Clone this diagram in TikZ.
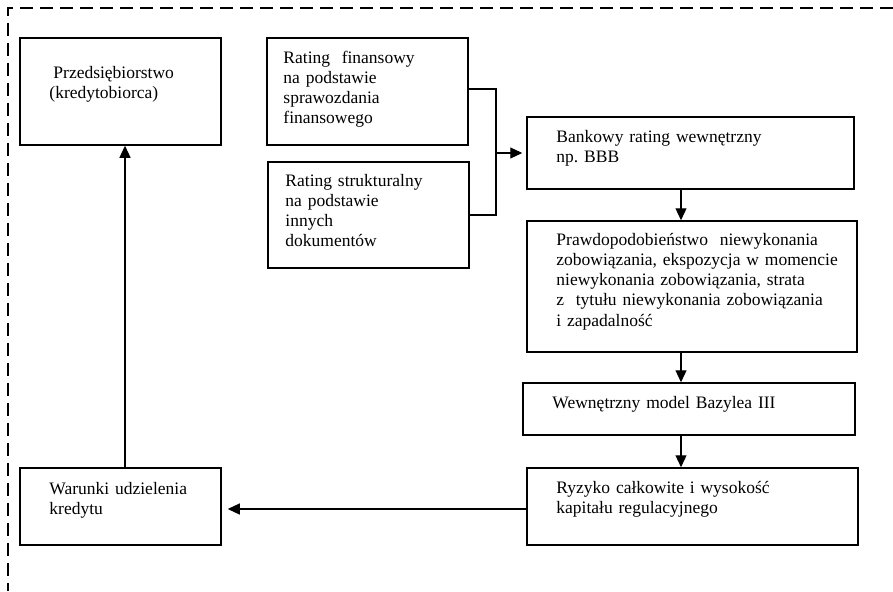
\documentclass[tikz,border=0pt]{standalone}
\usepackage{fontspec}
\setmainfont{Liberation Serif}
\usepackage{tikz}
\usetikzlibrary{arrows.meta}
\frenchspacing

\begin{document}
\begin{tikzpicture}[x=1pt, y=-1pt,
        box/.style={draw, line width=1.5pt, inner sep=0pt},
        txt/.style={anchor=base west, align=left, inner sep=0pt,
            font=\fontsize{17.5}{20.2}\selectfont},
        conn/.style={line width=1.2pt},
        arr/.style={conn, -{Triangle[length=12pt, width=11pt]}},
        frame/.style={line width=1.2pt, dash pattern=on 13pt off 7pt}
    ]
    \useasboundingbox (0,0) rectangle (893,591);

    \draw[frame] (893,8) -- (8,8) -- (8,591);

    \node[box, minimum width=201, minimum height=107] (przed) at (120.5,91.5) {};
    \node[box, minimum width=201, minimum height=107] (fin) at (367.5,91.5) {};
    \node[box, minimum width=201, minimum height=106] (strukt) at (368.5,215) {};
    \node[box, minimum width=327, minimum height=72] (bank) at (690.5,153) {};
    \node[box, minimum width=330, minimum height=131] (prawd) at (692,286.5) {};
    \node[box, minimum width=332, minimum height=52] (model) at (689,409) {};
    \node[box, minimum width=331, minimum height=77] (ryzyko) at (692.5,506.5) {};
    \node[box, minimum width=201, minimum height=77] (warunki) at (120.5,506.5) {};

    \node[txt, text width=165] (przed-t) at ([shift={(30,41)}]przed.north west)
        {\hspace*{4pt}Przedsiębiorstwo\\(kredytobiorca)};
    \node[txt, text width=180] (fin-t) at ([shift={(17,26)}]fin.north west)
        {Rating~ finansowy\\na podstawie\\sprawozdania\\finansowego};
    \node[txt, text width=180] (strukt-t) at ([shift={(18,25)}]strukt.north west)
        {Rating strukturalny\\na podstawie\\innych\\dokumentów};
    \node[txt, text width=290] (bank-t) at ([shift={(30,26)}]bank.north west)
        {Bankowy rating wewnętrzny\\np. BBB};
    \node[txt, text width=295] (prawd-t) at ([shift={(30,25)}]prawd.north west)
        {Prawdopodobieństwo~ niewykonania\\zobowiązania, ekspozycja w momencie\\niewykonania zobowiązania, strata\\z~ tytułu niewykonania zobowiązania\\i zapadalność};
    \node[txt, text width=295] (model-t) at ([shift={(30,26)}]model.north west)
        {Wewnętrzny model Bazylea III};
    \node[txt, text width=295] (ryzyko-t) at ([shift={(30,26)}]ryzyko.north west)
        {Ryzyko całkowite i wysokość\\kapitału regulacyjnego};
    \node[txt, text width=165] (warunki-t) at ([shift={(30,27)}]warunki.north west)
        {Warunki udzielenia\\kredytu};

    \coordinate (join) at (496,153);
    \coordinate (spine) at (681,0);
    \coordinate (lspine) at (125,0);

    \draw[conn] ([yshift=2.5pt]fin.east) -| (join) |- (strukt.east);
    \draw[arr, shorten >=4pt] (join) -- (join -| bank.west);
    \draw[arr] (bank.south -| spine) -- (prawd.north -| spine);
    \draw[arr] (prawd.south -| spine) -- (model.north -| spine);
    \draw[arr] (model.south -| spine) -- (ryzyko.north -| spine);
    \draw[arr, shorten >=6pt] ([yshift=-2.5pt]ryzyko.west) -- ([yshift=-2.5pt]ryzyko.west -| warunki.east);
    \draw[arr] (warunki.north -| lspine) -- (przed.south -| lspine);
\end{tikzpicture}
\end{document}
